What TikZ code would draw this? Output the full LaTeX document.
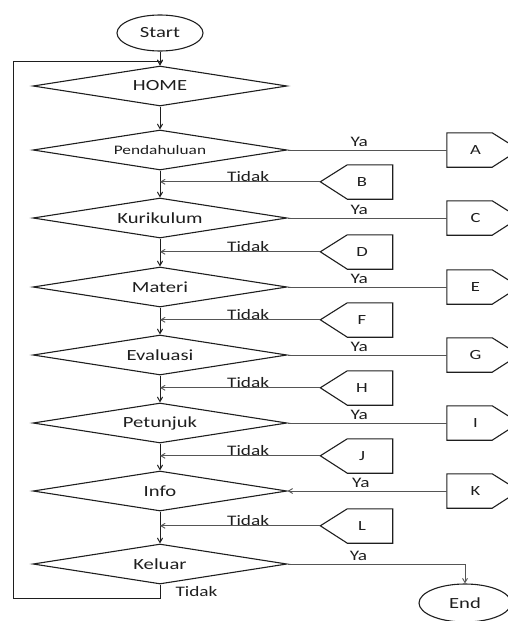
\documentclass[tikz,border=0pt]{standalone}
\usepackage{fontspec}
\setmainfont[FakeStretch=1.33]{Carlito}
\usetikzlibrary{shapes.geometric}
\usetikzlibrary{arrows}
\definecolor{ink}{HTML}{1E1E1E}
\definecolor{wire}{HTML}{555555}

\begin{document}
\begin{tikzpicture}[x=1pt, y=-1pt, >=angle 60,
 decision/.style={diamond, draw=ink, line width=1.1pt, aspect=6.35, minimum width=254pt, minimum height=40pt, inner sep=0pt, text=ink, font=\fontsize{15.5}{16}\selectfont},
 terminal/.style={ellipse, draw=ink, line width=1.1pt, minimum width=86pt, minimum height=36pt, inner sep=0pt, text=ink, font=\fontsize{15.5}{16}\selectfont},
 tag/.style={rectangle, minimum width=45pt, minimum height=34pt, inner sep=0pt},
 letter/.style={text=ink, inner sep=1pt, font=\fontsize{14}{15}\selectfont},
 lbl/.style={text=ink, font=\fontsize{14.5}{15}\selectfont, inner sep=1pt}]
\useasboundingbox (0,0) rectangle (508,621);
\clip (0,0) rectangle (508,621);

\node[terminal] (start) at (160,33) {Start};
\node[decision] (home) at (160,86) {HOME};
\node[decision, font=\fontsize{13}{14}\selectfont] (pend) at (160,150) {Pendahuluan};
\node[decision] (kuri) at (160,218) {Kurikulum};
\node[decision] (mate) at (160,287) {Materi};
\node[decision] (eval) at (160,355) {Evaluasi};
\node[decision] (petu) at (160,423) {Petunjuk};
\node[decision] (info) at (160,491) {Info};
\node[decision] (kelu) at (160,564) {Keluar};
\node[terminal, minimum width=92pt, minimum height=38pt] (stop) at (465,603) {End};

% alur utama
\foreach \a/\b in {start/home, home/pend, pend/kuri, kuri/mate, mate/eval, eval/petu, petu/info, info/kelu}
 \draw[ink, line width=1pt, ->] (\a) -- (\b);

% cabang Ya
\foreach \l/\y in {A/150, C/218, E/287, G/355, I/423, K/491} {
 \node[tag] (\l) at (469.5,\y) {};
 \node[letter] (\l txt) at ([xshift=6pt]\l.center) {\l};
 \draw[ink, line width=1.1pt] (\l.north west) -- (\l.north east) -- ++(27,17) -- (\l.south east) -- (\l.south west) -- cycle;
}
\foreach \d/\l in {pend/A, kuri/C, mate/E, eval/G, petu/I}
 \draw[wire, line width=.9pt] (\d.east) -- (\l.west) node[lbl, pos=.45, above=2pt] {Ya};
\draw[wire, line width=.9pt, ->] (K.west) -- (info.east) node[lbl, pos=.54, above=2pt] {Ya};

% cabang Tidak
\foreach \d/\l/\y in {pend/B/182, kuri/D/252, mate/F/320, eval/H/388, petu/J/456, info/L/526} {
 \node[tag] (\l) at (370,\y) {};
 \node[letter] (\l txt) at ([xshift=-8pt]\l.center) {\l};
 \draw[ink, line width=1.1pt] (\l.north east) -- (\l.north west) -- ++(-27,17) coordinate (\l tip) -- (\l.south west) -- (\l.south east) -- cycle;
 \draw[wire, line width=.9pt, ->] (\l tip) -- (\l tip -| \d.south) node[lbl, pos=.45, above, inner sep=0pt] {Tidak};
}

% keluar
\coordinate (corner) at (13,61);
\draw[ink, line width=1pt, ->] (kelu.south) -- ++(0,14) node[lbl, midway, right=14pt] {Tidak} -| (corner) -| (home.north);
\draw[wire, line width=.9pt, ->] (kelu.east) -| (stop.north) node[lbl, pos=.2, above=2pt] {Ya};
\end{tikzpicture}
\end{document}
